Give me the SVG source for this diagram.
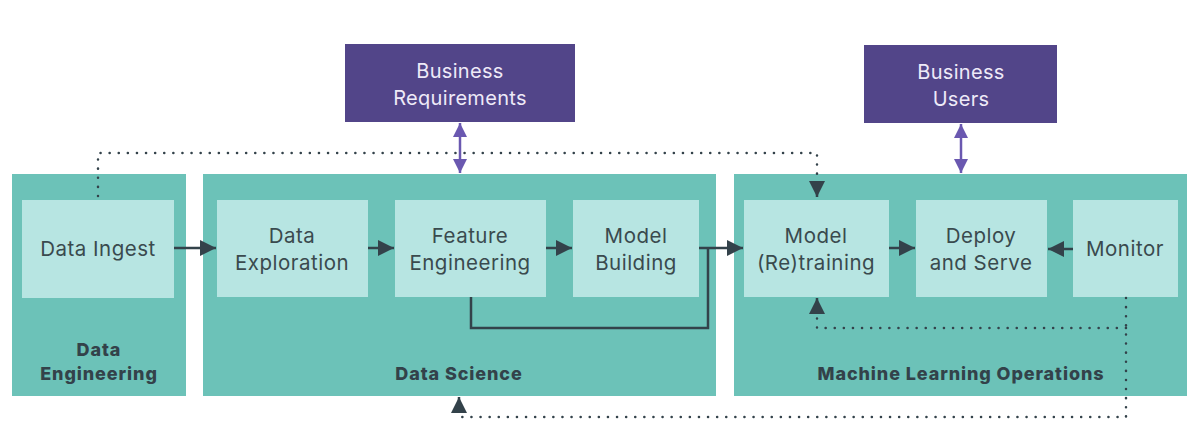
<svg xmlns="http://www.w3.org/2000/svg" width="1200" height="447" viewBox="0 0 1200 447">
<defs>
<style>
.panel{fill:#6cc2b8}
.box{fill:#b7e5e2}
.biz{fill:#524589}
.t{font-family:Inter,"Open Sans","Liberation Sans",sans-serif;font-size:20.5px;fill:#3a4a4e;text-anchor:middle;letter-spacing:0.5px}
.tb{font-family:Inter,"Open Sans","Liberation Sans",sans-serif;font-size:18px;font-weight:800;fill:#33424a;text-anchor:middle;letter-spacing:0.9px}
.tw{font-family:Inter,"Open Sans","Liberation Sans",sans-serif;font-size:20px;fill:#eeeaf8;text-anchor:middle;letter-spacing:0.3px}
.ln{stroke:#33424a;stroke-width:2.5;fill:none}
.dot{stroke:#33424a;stroke-width:2.5;fill:none;stroke-dasharray:0.1 9;stroke-linecap:round}
.pl{stroke:#6a58b0;stroke-width:2.5;fill:none}
</style>
<marker id="ah" viewBox="0 0 10 10" refX="10" refY="5" markerWidth="16" markerHeight="16" markerUnits="userSpaceOnUse" orient="auto">
<path d="M0,0 L10,5 L0,10 z" fill="#33424a"/>
</marker>
<marker id="ap" viewBox="0 0 10 10" refX="10" refY="5" markerWidth="14" markerHeight="14" markerUnits="userSpaceOnUse" orient="auto-start-reverse">
<path d="M0,0 L10,5 L0,10 z" fill="#6a58b0"/>
</marker>
</defs>
<rect width="1200" height="447" fill="#ffffff"/>
<g id="panel-data-engineering">
<rect class="panel" x="12" y="174" width="174" height="222"/>
<text class="tb" x="99" y="356">Data</text>
<text class="tb" x="99" y="380">Engineering</text>
</g>
<g id="panel-data-science">
<rect class="panel" x="203" y="174" width="513" height="222"/>
<text class="tb" x="459" y="380">Data Science</text>
</g>
<g id="panel-mlops">
<rect class="panel" x="734" y="174" width="453" height="222"/>
<text class="tb" x="961" y="380">Machine Learning Operations</text>
</g>
<g id="node-business-requirements">
<rect class="biz" x="345" y="44" width="230" height="78"/>
<text class="tw" x="460" y="78">Business</text>
<text class="tw" x="460" y="105">Requirements</text>
</g>
<g id="node-business-users">
<rect class="biz" x="864" y="45" width="193" height="78"/>
<text class="tw" x="961" y="79">Business</text>
<text class="tw" x="961" y="106">Users</text>
</g>
<g id="node-data-ingest">
<rect class="box" x="22" y="200" width="152" height="98"/>
<text class="t" x="98" y="256">Data Ingest</text>
</g>
<g id="node-data-exploration">
<rect class="box" x="217" y="200" width="151" height="97"/>
<text class="t" x="292" y="243">Data</text>
<text class="t" x="292" y="270">Exploration</text>
</g>
<g id="node-feature-engineering">
<rect class="box" x="395" y="200" width="151" height="97"/>
<text class="t" x="470" y="243">Feature</text>
<text class="t" x="470" y="270">Engineering</text>
</g>
<g id="node-model-building">
<rect class="box" x="573" y="200" width="126" height="97"/>
<text class="t" x="636" y="243">Model</text>
<text class="t" x="636" y="270">Building</text>
</g>
<g id="node-model-retraining">
<rect class="box" x="744" y="200" width="145" height="97"/>
<text class="t" x="816" y="243">Model</text>
<text class="t" x="816" y="270">(Re)training</text>
</g>
<g id="node-deploy-serve">
<rect class="box" x="916" y="200" width="131" height="97"/>
<text class="t" x="981" y="243">Deploy</text>
<text class="t" x="981" y="270">and Serve</text>
</g>
<g id="node-monitor">
<rect class="box" x="1073" y="200" width="105" height="97"/>
<text class="t" x="1125" y="256">Monitor</text>
</g>
<g id="connectors">
<line class="ln" x1="174" y1="248" x2="216" y2="248" marker-end="url(#ah)"/>
<line class="ln" x1="368" y1="248" x2="394" y2="248" marker-end="url(#ah)"/>
<line class="ln" x1="546" y1="248" x2="572" y2="248" marker-end="url(#ah)"/>
<line class="ln" x1="699" y1="248" x2="743" y2="248" marker-end="url(#ah)"/>
<polyline class="ln" points="471,297 471,328 708,328 708,248"/>
<line class="ln" x1="889" y1="248" x2="915" y2="248" marker-end="url(#ah)"/>
<line class="ln" x1="1073" y1="249" x2="1048" y2="249" marker-end="url(#ah)"/>
<line class="pl" x1="460" y1="123" x2="460" y2="173" marker-start="url(#ap)" marker-end="url(#ap)"/>
<line class="pl" x1="961" y1="124" x2="961" y2="173" marker-start="url(#ap)" marker-end="url(#ap)"/>
<polyline class="dot" points="98,196 98,153 817,153 817,184"/>
<line class="ln" x1="817" y1="183" x2="817" y2="197" marker-end="url(#ah)"/>
<polyline class="dot" points="1126,298 1126,417 459,417 459,410"/>
<line class="ln" x1="459" y1="410" x2="459" y2="397" marker-end="url(#ah)"/>
<polyline class="dot" points="1126,328 817,328 817,314"/>
<line class="ln" x1="817" y1="313" x2="817" y2="298" marker-end="url(#ah)"/>
</g>
</svg>
